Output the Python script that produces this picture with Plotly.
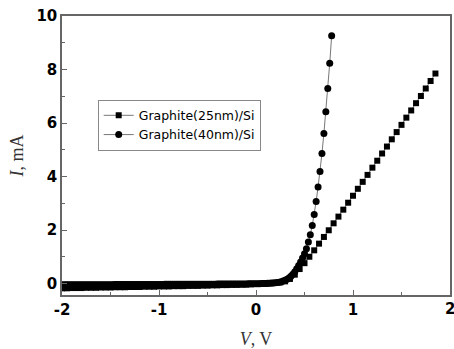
import plotly.graph_objects as go

# Graphite(40nm)/Si: voltage sweep (V) and current (mA)
v_40nm = [
    -2.00, -1.98, -1.96, -1.94, -1.92, -1.90, -1.88, -1.86, -1.84, -1.82,
    -1.80, -1.78, -1.76, -1.74, -1.72, -1.70, -1.68, -1.66, -1.64, -1.62,
    -1.60, -1.58, -1.56, -1.54, -1.52, -1.50, -1.48, -1.46, -1.44, -1.42,
    -1.40, -1.38, -1.36, -1.34, -1.32, -1.30, -1.28, -1.26, -1.24, -1.22,
    -1.20, -1.18, -1.16, -1.14, -1.12, -1.10, -1.08, -1.06, -1.04, -1.02,
    -1.00, -0.98, -0.96, -0.94, -0.92, -0.90, -0.88, -0.86, -0.84, -0.82,
    -0.80, -0.78, -0.76, -0.74, -0.72, -0.70, -0.68, -0.66, -0.64, -0.62,
    -0.60, -0.58, -0.56, -0.54, -0.52, -0.50, -0.48, -0.46, -0.44, -0.42,
    -0.40, -0.38, -0.36, -0.34, -0.32, -0.30, -0.28, -0.26, -0.24, -0.22,
    -0.20, -0.18, -0.16, -0.14, -0.12, -0.10, -0.08, -0.06, -0.04, -0.02,
    0.00, 0.02, 0.04, 0.06, 0.08, 0.10, 0.12, 0.14, 0.16, 0.18,
    0.20, 0.22, 0.24, 0.26, 0.28, 0.30, 0.32, 0.34, 0.36, 0.38,
    0.40, 0.42, 0.44, 0.46, 0.48, 0.50, 0.52, 0.54, 0.56, 0.58,
    0.60, 0.62, 0.64, 0.66, 0.68, 0.70, 0.72, 0.74, 0.76, 0.78,
]
i_40nm = [
    -0.05, -0.05, -0.05, -0.05, -0.05, -0.05, -0.05, -0.05, -0.05, -0.05,
    -0.05, -0.05, -0.05, -0.05, -0.05, -0.05, -0.05, -0.05, -0.05, -0.05,
    -0.05, -0.05, -0.05, -0.05, -0.05, -0.05, -0.05, -0.04, -0.04, -0.04,
    -0.04, -0.04, -0.04, -0.04, -0.04, -0.04, -0.04, -0.04, -0.04, -0.04,
    -0.04, -0.04, -0.04, -0.04, -0.04, -0.04, -0.04, -0.04, -0.04, -0.04,
    -0.04, -0.04, -0.04, -0.03, -0.03, -0.03, -0.03, -0.03, -0.03, -0.03,
    -0.03, -0.03, -0.03, -0.03, -0.03, -0.03, -0.03, -0.03, -0.03, -0.03,
    -0.03, -0.03, -0.03, -0.03, -0.03, -0.03, -0.03, -0.03, -0.03, -0.03,
    -0.02, -0.02, -0.02, -0.02, -0.02, -0.02, -0.02, -0.02, -0.02, -0.02,
    -0.02, -0.02, -0.02, -0.02, -0.02, -0.02, -0.01, -0.01, -0.01, -0.01,
    -0.01, -0.01, -0.01, 0.00, 0.00, 0.00, 0.01, 0.01, 0.02, 0.02,
    0.03, 0.04, 0.05, 0.07, 0.09, 0.12, 0.16, 0.21, 0.27, 0.35,
    0.44, 0.55, 0.67, 0.80, 0.95, 1.11, 1.30, 1.55, 1.82, 2.17,
    2.58, 3.07, 3.61, 4.19, 4.86, 5.61, 6.42, 7.29, 8.23, 9.26,
]

# Graphite(25nm)/Si: voltage sweep (V) and current (mA)
v_25nm = [
    -2.00, -1.95, -1.90, -1.85, -1.80, -1.75, -1.70, -1.65, -1.60, -1.55,
    -1.50, -1.45, -1.40, -1.35, -1.30, -1.25, -1.20, -1.15, -1.10, -1.05,
    -1.00, -0.95, -0.90, -0.85, -0.80, -0.75, -0.70, -0.65, -0.60, -0.55,
    -0.50, -0.45, -0.40, -0.35, -0.30, -0.25, -0.20, -0.15, -0.10, -0.05,
    0.00, 0.05, 0.10, 0.15, 0.20, 0.25, 0.30, 0.35, 0.40, 0.45,
    0.50, 0.55, 0.60, 0.65, 0.70, 0.75, 0.80, 0.85, 0.90, 0.95,
    1.00, 1.05, 1.10, 1.15, 1.20, 1.25, 1.30, 1.35, 1.40, 1.45,
    1.50, 1.55, 1.60, 1.65, 1.70, 1.75, 1.80, 1.85,
]
i_25nm = [
    -0.18, -0.18, -0.17, -0.17, -0.17, -0.16, -0.16, -0.16, -0.15, -0.15,
    -0.15, -0.14, -0.14, -0.14, -0.13, -0.13, -0.13, -0.12, -0.12, -0.12,
    -0.11, -0.11, -0.11, -0.10, -0.10, -0.10, -0.09, -0.09, -0.09, -0.08,
    -0.08, -0.07, -0.07, -0.06, -0.06, -0.05, -0.05, -0.04, -0.04, -0.03,
    -0.02, -0.01, 0.00, 0.01, 0.02, 0.04, 0.08, 0.17, 0.33, 0.54,
    0.76, 1.00, 1.24, 1.49, 1.74, 1.99, 2.25, 2.50, 2.76, 3.02,
    3.28, 3.54, 3.80, 4.06, 4.33, 4.59, 4.86, 5.12, 5.39, 5.66,
    5.93, 6.20, 6.47, 6.74, 7.01, 7.29, 7.57, 7.85,
]

x_ticks = [-2, -1, 0, 1, 2]
y_ticks = [0, 2, 4, 6, 8, 10]

fig = go.Figure()
fig.add_trace(go.Scatter(
    x=v_25nm, y=i_25nm, mode="lines+markers", name="Graphite(25nm)/Si",
    line=dict(color="#777777", width=1),
    marker=dict(symbol="square", size=6, color="black"),
))
fig.add_trace(go.Scatter(
    x=v_40nm, y=i_40nm, mode="lines+markers", name="Graphite(40nm)/Si",
    line=dict(color="#777777", width=1),
    marker=dict(symbol="circle", size=7, color="black"),
))

tick_font = dict(family="DejaVu Sans", size=15, color="black", weight="bold")

axis_common = dict(
    showline=True, linecolor="#666666", linewidth=1.5, mirror=True,
    ticks="inside", ticklen=5, tickcolor="#666666", tickwidth=1,
    showgrid=False, zeroline=False,
    tickfont=tick_font,
)

# the label of the last x tick sits on the page edge, so it is placed as an
# annotation (plotly drops tick labels that run past the figure)
x_ticktext = [str(t) for t in x_ticks[:-1]] + [""]

fig.update_xaxes(
    range=[-2, 2], tickvals=x_ticks, ticktext=x_ticktext,
    minor=dict(ticks="inside", ticklen=3, tickcolor="#666666", dtick=0.5,
               tick0=0),
    title=dict(text="<i>V</i>, V", standoff=16,
               font=dict(family="Liberation Serif, Times New Roman",
                         size=18, color="#333333")),
    **axis_common,
)
fig.update_yaxes(
    range=[-0.43, 10], tickvals=y_ticks, ticktext=[str(t) for t in y_ticks],
    minor=dict(ticks="inside", ticklen=3, tickcolor="#666666", dtick=1,
               tick0=0),
    title=dict(text="<i>I</i>, mA", standoff=8,
               font=dict(family="Liberation Serif, Times New Roman",
                         size=18, color="#333333")),
    **axis_common,
)

fig.add_annotation(
    x=x_ticks[-1], xref="x", y=0, yref="paper",
    text=str(x_ticks[-1]), showarrow=False,
    xanchor="center", yanchor="top", yshift=-3,
    font=tick_font,
)

fig.update_layout(
    width=454, height=349,
    margin=dict(l=62, r=2, t=16, b=54),
    paper_bgcolor="white", plot_bgcolor="white",
    showlegend=True,
    legend=dict(
        x=0.092, y=0.70, xanchor="left", yanchor="top",
        bgcolor="white", bordercolor="#888888", borderwidth=1,
        font=dict(family="DejaVu Sans", size=12.5, color="black"),
        tracegroupgap=0, itemsizing="trace", itemwidth=30,
    ),
)

fig.write_html("out.html")
